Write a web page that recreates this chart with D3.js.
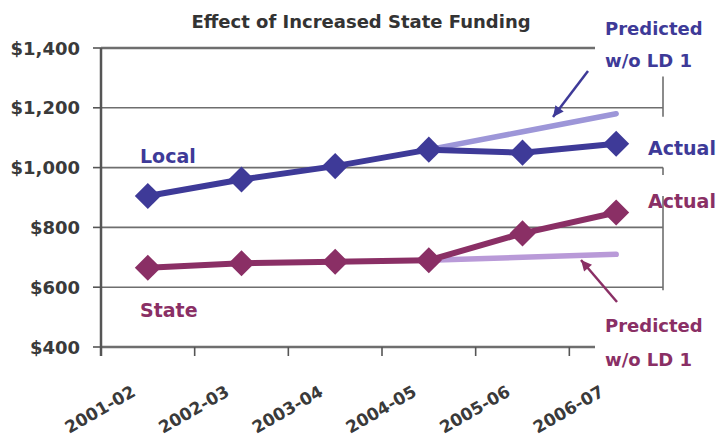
<!DOCTYPE html>
<html><head><meta charset="utf-8">
<script src="https://cdn.jsdelivr.net/npm/d3@7"></script>
<style>body{margin:0;background:#fff}svg{display:block}text{font-family:"DejaVu Sans",sans-serif}</style>
</head><body><svg id="c" width="718" height="443"></svg>
<script>
const categories = ["2001-02","2002-03","2003-04","2004-05","2005-06","2006-07"];
const localActual = [905, 960, 1005, 1060, 1050, 1080];
const stateActual = [665, 680, 685, 690, 780, 850];
const localPredCats = ["2004-05","2005-06","2006-07"];
const localPredicted = [1060, 1120, 1180];
const statePredCats = ["2004-05","2005-06","2006-07"];
const statePredicted = [690, 700, 710];
const yTicks = [400, 600, 800, 1000, 1200, 1400];

const svg = d3.select("#c");
const L = 101, R = 663, T = 48, B = 347;
const x = d3.scaleBand().domain(categories).range([L, R]);
const y = d3.scaleLinear().domain([400, 1400]).range([B, T]);
const cx = c => x(c) + x.bandwidth()/2;

const cLocal = "#3e3a98", cState = "#8a2f65", cPL = "#9d96d8", cPS = "#b99ad8", grid = "#6e6e6e";

// gridlines
svg.append("g").selectAll("line").data(yTicks).join("line")
  .attr("x1", L).attr("x2", d => (d === 1400 || d === 400) ? 595 : R)
  .attr("y1", d => y(d)).attr("y2", d => y(d))
  .attr("stroke", grid).attr("stroke-width", d => (d === 1400 || d === 400) ? 2.5 : 1.6);
// right frame segments
[[1305,1170],[1000,975],[905,590]].forEach(([a,b]) => {
  svg.append("line").attr("x1", R).attr("x2", R).attr("y1", y(a)).attr("y2", y(b))
    .attr("stroke", grid).attr("stroke-width", 1.6);
});
// left axis
svg.append("line").attr("x1", L).attr("x2", L).attr("y1", y(1400)).attr("y2", B + 9)
  .attr("stroke", "#555").attr("stroke-width", 2.5);
// y tick marks + labels
svg.append("g").selectAll("line").data(yTicks).join("line")
  .attr("x1", L - 8).attr("x2", L).attr("y1", d => y(d)).attr("y2", d => y(d))
  .attr("stroke", "#555").attr("stroke-width", 1.6);
const fmt = d3.format("$,");
svg.append("g").selectAll("text").data(yTicks).join("text")
  .attr("x", 80).attr("y", d => y(d) + 6.5).attr("text-anchor", "end")
  .attr("font-size", 18).attr("font-weight", 700).attr("fill", "#3a3a3a")
  .text(d => fmt(d));
// x tick marks
svg.append("g").selectAll("line").data(categories).join("line")
  .attr("x1", d => x(d)).attr("x2", d => x(d)).attr("y1", B).attr("y2", B + 9)
  .attr("stroke", "#555").attr("stroke-width", 1.6);
// x labels
svg.append("g").selectAll("text").data(categories).join("text")
  .attr("transform", d => `translate(${cx(d) - 11},${B + 48}) rotate(-30)`)
  .attr("text-anchor", "end").attr("font-size", 17).attr("font-weight", 700).attr("fill", "#3a3a3a")
  .text(d => d);

// title
svg.append("text").attr("x", 361).attr("y", 28).attr("text-anchor", "middle")
  .attr("font-size", 18).attr("font-weight", 700).attr("fill", "#333").text("Effect of Increased State Funding");

const line = d3.line().x(d => cx(d[0])).y(d => y(d[1]));
// predicted lines
svg.append("path").datum(localPredCats.map((c,i) => [c, localPredicted[i]])).attr("d", line)
  .attr("fill", "none").attr("stroke", cPL).attr("stroke-width", 5.5).attr("stroke-linecap", "round");
svg.append("path").datum(statePredCats.map((c,i) => [c, statePredicted[i]])).attr("d", line)
  .attr("fill", "none").attr("stroke", cPS).attr("stroke-width", 5.5).attr("stroke-linecap", "round");

const sym = d3.symbol().type(d3.symbolSquare).size(340);
function series(vals, col) {
  const data = categories.map((c,i) => [c, vals[i]]);
  svg.append("path").datum(data).attr("d", line).attr("fill", "none")
    .attr("stroke", col).attr("stroke-width", 6).attr("stroke-linejoin", "round");
  svg.append("g").selectAll("path").data(data).join("path")
    .attr("d", sym).attr("fill", col)
    .attr("transform", d => `translate(${cx(d[0])},${y(d[1])}) rotate(45)`);
}
series(localActual, cLocal);
series(stateActual, cState);

// labels
function lbl(t, xx, yy, col, size) {
  svg.append("text").attr("x", xx).attr("y", yy).attr("font-size", size || 18)
    .attr("font-weight", 700).attr("fill", col).text(t);
}
lbl("Local", 140, 163, cLocal, 19);
lbl("State", 140, 317, cState, 19);
lbl("Predicted", 605, 35, cLocal);
lbl("w/o LD 1", 605, 67, cLocal);
lbl("Actual", 648, 155, cLocal, 19);
lbl("Actual", 648, 208, cState, 19);
lbl("Predicted", 605, 332, cState);
lbl("w/o LD 1", 605, 366, cState);

// arrows
function arrow(x1, y1, x2, y2, col) {
  svg.append("line").attr("x1", x1).attr("y1", y1).attr("x2", x2).attr("y2", y2)
    .attr("stroke", col).attr("stroke-width", 2.5);
  const a = Math.atan2(y2 - y1, x2 - x1), s = 12, w = 0.45;
  const p = [[x2, y2],
    [x2 - s*Math.cos(a - w), y2 - s*Math.sin(a - w)],
    [x2 - s*Math.cos(a + w), y2 - s*Math.sin(a + w)]];
  svg.append("path").attr("d", "M" + p.join("L") + "Z").attr("fill", col);
}
arrow(588, 71, 553, 117, cLocal);
arrow(617, 302, 581, 260, cState);
</script></body></html>
